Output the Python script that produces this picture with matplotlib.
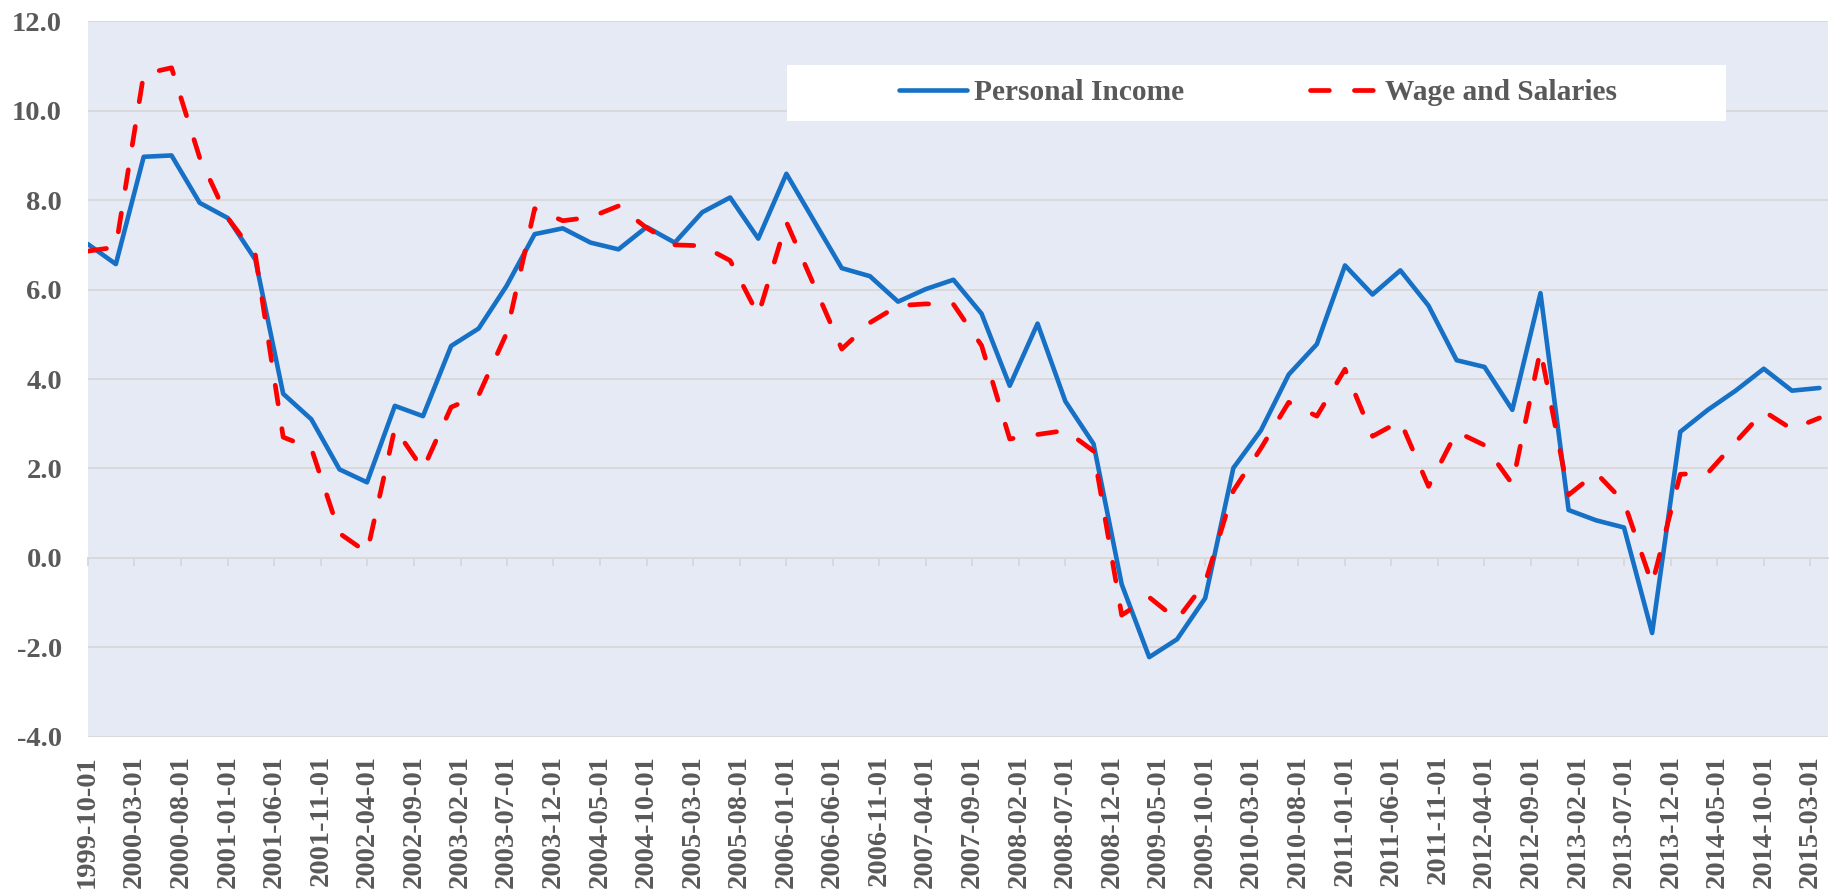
import matplotlib
matplotlib.use("Agg")
import matplotlib.pyplot as plt
import matplotlib.dates as mdates
import pandas as pd
from matplotlib.patches import Rectangle
from matplotlib.lines import Line2D

# ---------------- data ----------------
dates = pd.date_range("1999-10-01", periods=63, freq="QS-OCT")

personal_income = [
    7.02, 6.57, 8.97, 9.00, 7.94, 7.60, 6.67, 3.67, 3.10, 1.98,
    1.69, 3.40, 3.17, 4.74, 5.13, 6.08, 7.24, 7.37, 7.05, 6.90,
    7.40, 7.05, 7.73, 8.06, 7.14, 8.59, 7.54, 6.48, 6.30, 5.73,
    6.01, 6.22, 5.46, 3.85, 5.24, 3.50, 2.55, -0.59, -2.22, -1.82,
    -0.90, 2.01, 2.85, 4.10, 4.78, 6.54, 5.89, 6.43, 5.64, 4.42,
    4.27, 3.31, 5.92, 1.07, 0.84, 0.68, -1.68, 2.82, 3.31, 3.74,
    4.23, 3.74, 3.80,
]

wages_salaries = [
    6.86, 6.95, 10.82, 10.96, 8.95, 7.60, 6.78, 2.70, 2.45, 0.55,
    0.12, 2.90, 1.98, 3.37, 3.64, 5.02, 7.81, 7.54, 7.62, 7.87,
    7.38, 7.00, 6.98, 6.65, 5.43, 7.51, 6.10, 4.67, 5.26, 5.64,
    5.68, 5.67, 4.75, 2.66, 2.76, 2.85, 2.39, -1.28, -0.88, -1.38,
    -0.55, 1.50, 2.45, 3.48, 3.17, 4.22, 2.72, 3.06, 1.60, 2.82,
    2.52, 1.65, 4.65, 1.41, 1.90, 1.25, -0.59, 1.87, 1.90, 2.59,
    3.28, 2.88, 3.13,
]

series_names = ["Personal Income", "Wage and Salaries"]

tick_dates = pd.date_range("1999-10-01", "2015-03-01", freq="5MS")
tick_labels = [d.strftime("%Y-%m-%d") for d in tick_dates]

y_ticks = [-4, -2, 0, 2, 4, 6, 8, 10, 12]
y_labels = [f"{v:.1f}" for v in y_ticks]

# ---------------- style ----------------
BLUE = "#1570C6"
RED = "#FF0000"
GRID = "#D9D9D9"
TXT = "#595959"
BG = "#E6EAF5"
FONT = dict(family="Liberation Serif", weight="bold", size=20.5)

fig = plt.figure(figsize=(18.35, 8.91), dpi=100)
ax = fig.add_axes([0.0478, 0.1731, 0.9484, 0.8030])
ax.set_facecolor(BG)
for s in ax.spines.values():
    s.set_visible(False)

ax.set_ylim(-4, 12)
ax.set_yticks(y_ticks)
ax.set_yticklabels(y_labels, fontdict=FONT, color=TXT)
ax.yaxis.grid(True, color=GRID, lw=1.4)
ax.xaxis.grid(False)
ax.set_axisbelow(True)
ax.tick_params(axis="y", length=0, pad=18.5)

x0 = mdates.date2num(pd.Timestamp("1999-10-01"))
x1 = mdates.date2num(pd.Timestamp("2015-04-29"))
ax.set_xlim(x0, x1)
tick_nums = mdates.date2num(tick_dates)
ax.set_xticks(tick_nums)
ax.set_xticklabels(tick_labels, fontdict=FONT, color=TXT, rotation=90,
                   va="top", ha="center")
ax.tick_params(axis="x", length=0, pad=13)

# axis line with tick marks at y = 0
sec = ax.secondary_xaxis(0, transform=ax.transData)
sec.set_xticks(tick_nums)
sec.set_xticklabels([])
sec.tick_params(axis="x", direction="out", length=5.8, width=1.4, color=GRID)
for name, sp in sec.spines.items():
    sp.set_color(GRID)
    sp.set_linewidth(1.4)

num_dates = mdates.date2num(dates)
ax.plot(num_dates, personal_income, color=BLUE, lw=3.3,
        solid_joinstyle="round", solid_capstyle="round", zorder=3)
ax.plot(num_dates, wages_salaries, color=RED, lw=3.4, dashes=(4.0, 5.3),
        dash_capstyle="round", dash_joinstyle="round", zorder=3)

# legend box
ax.add_patch(Rectangle((0.4018, 0.8611), 0.5396, 0.0785, transform=ax.transAxes,
                       facecolor="white", edgecolor="none", zorder=4))
handles = [
    Line2D([], [], color=BLUE, lw=3.3, solid_capstyle="round"),
    Line2D([], [], color=RED, lw=3.4, dashes=(4.0, 5.3), dash_capstyle="round"),
]
leg = ax.legend(handles, series_names, loc="center", bbox_to_anchor=(0.6725, 0.9003),
                ncol=2, frameon=False, handlelength=2.3, handletextpad=0.25,
                columnspacing=4.25, prop=dict(family="Liberation Serif", weight="bold", size=21.2),
                borderaxespad=0, borderpad=0)
leg.set_zorder(5)
for t in leg.get_texts():
    t.set_color(TXT)

fig.savefig("out.png", dpi=100, facecolor="white")
